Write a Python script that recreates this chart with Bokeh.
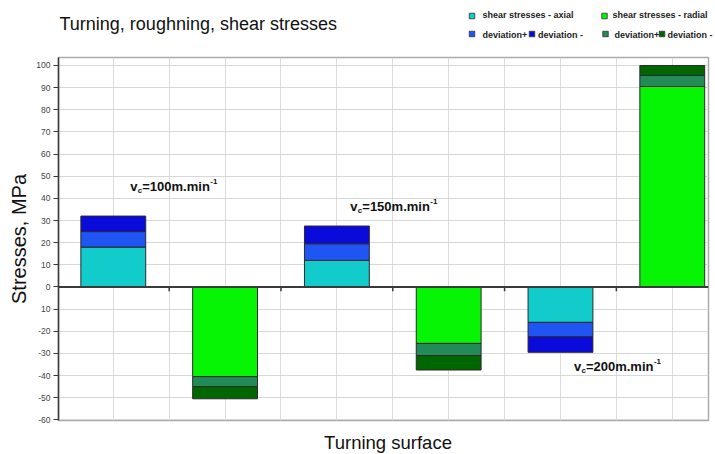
import numpy as np
from bokeh.plotting import figure
from bokeh.layouts import column
from bokeh.models import Range1d, FixedTicker, Label, Span, CustomJSTickFormatter
from bokeh.core.properties import value
from bokeh.embed import file_html
from bokeh.resources import INLINE

# ---------------- data ----------------
categories = ["axial 100", "radial 100", "axial 150", "radial 150", "axial 200", "radial 200"]
axial_x = [0, 2, 4]
axial_mean = [18, 12, -16]
axial_dev_plus = [7, 7.5, -6.5]
axial_dev_minus = [7, 8, -7]
radial_x = [1, 3, 5]
radial_mean = [-40.5, -25.5, 90.5]
radial_dev_plus = [-4.5, -5.5, 5]
radial_dev_minus = [-5.5, -6.5, 4.5]
speeds = ["100", "150", "200"]
y_ticks = list(range(-60, 101, 10))
legend_labels = ["shear stresses - axial", "shear stresses - radial",
                 "deviation+", "deviation -", "deviation+", "deviation -"]

# ---------------- styles ----------------
FONT = "Liberation Sans"
C_AXIAL = "#12CBCB"
C_AX_DP = "#1F55F2"
C_AX_DM = "#0A0ADA"
C_RADIAL = "#05F505"
C_RA_DP = "#238B57"
C_RA_DM = "#006600"
W_PAGE = 715

# ---------------- header (title + legend) ----------------
hdr = figure(width=W_PAGE, height=50, x_range=Range1d(0, W_PAGE), y_range=Range1d(50, 0),
             x_axis_type=None, y_axis_type=None, output_backend="svg", toolbar_location=None,
             min_border=0, outline_line_color=None, frame_align=False)
hdr.text(x=[59], y=[23.5], text=["Turning, roughning, shear stresses"],
         text_font=value(FONT), text_font_size="18px", text_color="#111111",
         text_baseline="middle")
leg_colors = [C_AXIAL, C_RADIAL, C_AX_DP, C_AX_DM, C_RA_DP, C_RA_DM]
leg_sq_x = [471.5, 604, 471.5, 531.5, 605, 661.5]
leg_sq_y = [15.5, 15.5, 33.5, 33.5, 33.5, 33.5]
leg_tx_x = [482, 612, 482, 537.5, 614, 667]
leg_tx_y = [14, 14, 34, 34, 34, 34]
hdr.rect(x=leg_sq_x, y=leg_sq_y, width=5.5, height=5.5, fill_color=leg_colors,
         line_color="#333333", line_width=0.8)
hdr.text(x=leg_tx_x, y=leg_tx_y, text=legend_labels, text_font=value(FONT),
         text_font_size="9px", text_font_style="bold", text_color="#222222",
         text_baseline="middle")

# ---------------- main plot ----------------
p = figure(width=W_PAGE, height=376, x_range=Range1d(-0.49, 5.324), y_range=Range1d(-60.3, 103.6),
           output_backend="svg", toolbar_location=None, frame_align=False,
           min_border_left=58, min_border_right=7, min_border_top=7, min_border_bottom=6)
p.background_fill_color = "white"
p.border_fill_color = "white"
p.outline_line_color = "#aaaaaa"
p.outline_line_width = 1.5
p.xaxis.visible = False

# grids
p.ygrid.ticker = FixedTicker(ticks=y_ticks)
p.ygrid.grid_line_color = "#d8d8d8"
p.xgrid.ticker = FixedTicker(ticks=[i * 0.5 for i in range(0, 2 * len(categories) - 1)])
p.xgrid.grid_line_color = "#dcdcdc"

# y axis
ya = p.yaxis[0]
ya.ticker = FixedTicker(ticks=y_ticks)
ya.formatter = CustomJSTickFormatter(code="return (Math.round(tick) === -10) ? '10' : String(Math.round(tick));")
ya.major_label_text_font = FONT
ya.major_label_text_font_size = "8.5px"
ya.major_label_text_color = "#444444"
ya.major_label_standoff = 3
ya.major_tick_out = 5
ya.major_tick_in = 0
ya.minor_tick_out = 0
ya.minor_tick_in = 0
ya.axis_line_color = "#3a3a3a"
ya.axis_line_width = 1.5
ya.major_tick_line_color = "#3a3a3a"
ya.axis_label = "Stresses, MPa"
ya.axis_label_text_font = FONT
ya.axis_label_text_font_size = "20px"
ya.axis_label_text_font_style = "normal"
ya.axis_label_text_color = "#111111"
ya.axis_label_standoff = 3

# ---------------- bars ----------------
W = 0.58
ax_m = np.array(axial_mean, dtype=float)
ax_p = ax_m + np.array(axial_dev_plus)
ax_t = ax_p + np.array(axial_dev_minus)
ra_m = np.array(radial_mean, dtype=float)
ra_p = ra_m + np.array(radial_dev_plus)
ra_t = ra_p + np.array(radial_dev_minus)
zeros = np.zeros(3)

def bars(x, b, t, color):
    return p.vbar(x=x, width=W, bottom=list(b), top=list(t), fill_color=color,
                  line_color="#2a2a2a", line_width=1)

bars(axial_x, zeros, ax_m, C_AXIAL)
bars(axial_x, ax_m, ax_p, C_AX_DP)
bars(axial_x, ax_p, ax_t, C_AX_DM)
bars(radial_x, zeros, ra_m, C_RADIAL)
bars(radial_x, ra_m, ra_p, C_RA_DP)
bars(radial_x, ra_p, ra_t, C_RA_DM)

# zero axis line with category boundary ticks
p.add_layout(Span(location=0, dimension="width", line_color="#3a3a3a", line_width=2))
bounds = np.arange(len(categories) - 1) + 0.5
p.segment(x0=bounds, x1=bounds, y0=np.zeros(len(bounds)), y1=np.full(len(bounds), -1.9),
          line_color="#3a3a3a", line_width=1.5)

# speed annotations
speed_pos = [(0.152, 45.5), (2.12, 36.5), (4.12, -36)]
for sp, (sx, sy) in zip(speeds, speed_pos):
    common = dict(x=sx, y=sy, text_font=FONT, text_font_style="bold",
                  text_color="#111111", text_baseline="middle")
    p.add_layout(Label(text="v", text_font_size="13px", **common))
    p.add_layout(Label(text="c", text_font_size="8px", x_offset=7.5, y_offset=-4, **common))
    p.add_layout(Label(text="=" + sp + "m.min", text_font_size="13px", x_offset=12, **common))
    p.add_layout(Label(text="-1", text_font_size="8px", x_offset=80, y_offset=5, **common))

# ---------------- footer (x axis title) ----------------
ftr = figure(width=W_PAGE, height=28, x_range=Range1d(0, W_PAGE), y_range=Range1d(454, 426),
             x_axis_type=None, y_axis_type=None, output_backend="svg", toolbar_location=None,
             min_border=0, outline_line_color=None, frame_align=False)
ftr.text(x=[387.5], y=[441.5], text=["Turning surface"], text_font=value(FONT),
         text_font_size="18.5px", text_color="#111111", text_align="center",
         text_baseline="middle")

layout = column(hdr, p, ftr, spacing=0)
open("out.html", "w").write(file_html(layout, INLINE))
